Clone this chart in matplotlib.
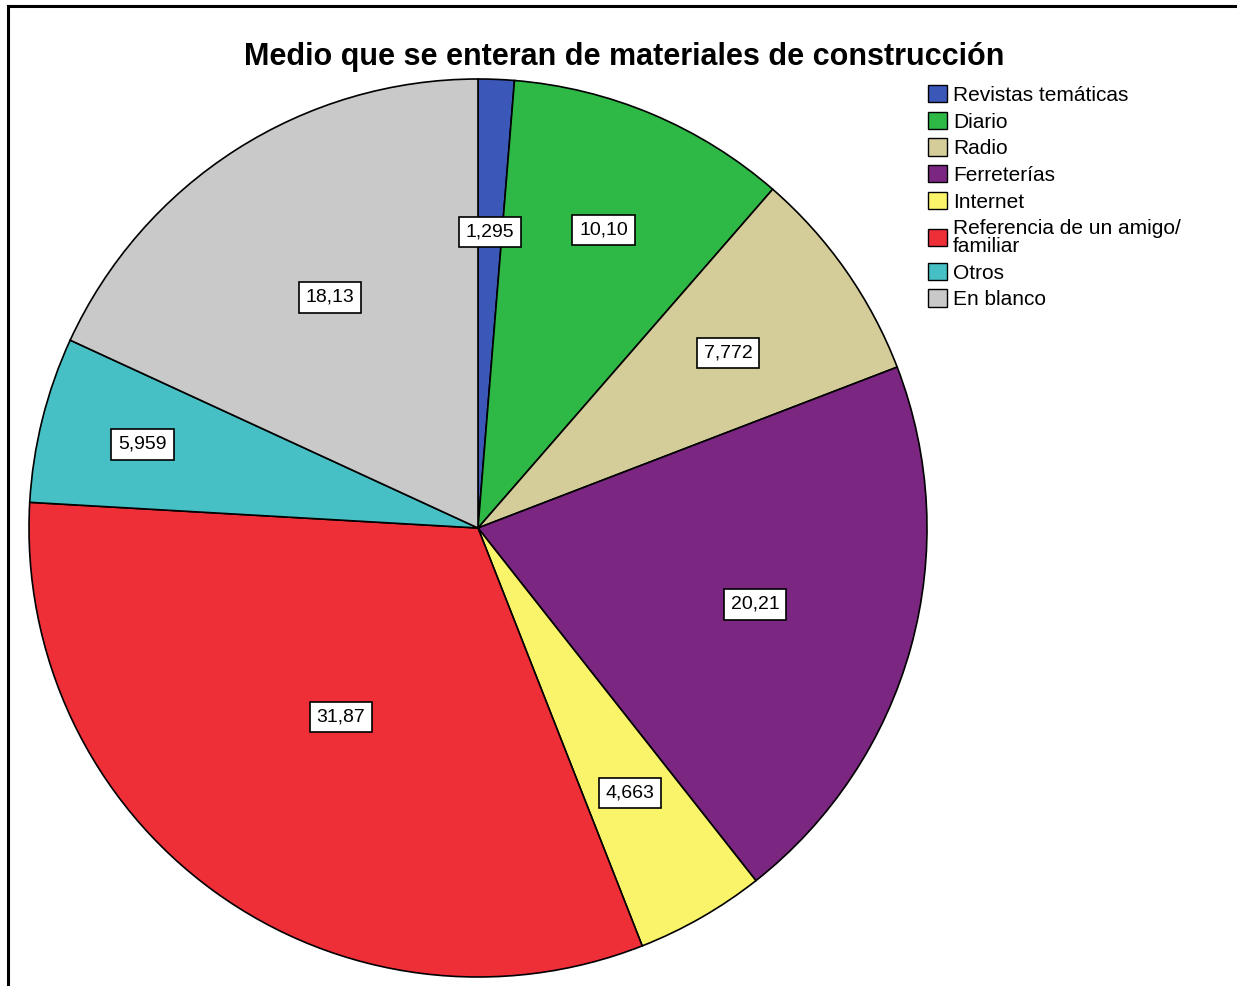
import numpy as np
import matplotlib
matplotlib.use("Agg")
import matplotlib.pyplot as plt
from matplotlib.lines import Line2D

plt.rcParams['font.family'] = ['Liberation Sans', 'DejaVu Sans']

# data
categorias = ["Revistas temáticas", "Diario", "Radio", "Ferreterías", "Internet",
              "Referencia de un amigo/\nfamiliar", "Otros", "En blanco"]
porcentajes = [1.295, 10.10, 7.772, 20.21, 4.663, 31.87, 5.959, 18.13]
colores = ["#3B57B8", "#2EB845", "#D4CD99", "#7B2681", "#FAF46A",
           "#EE2F38", "#46C0C5", "#C9C9C9"]
# radial position of the value boxes (fraction of radius)
pos_etiqueta = [0.66, 0.72, 0.68, 0.64, 0.68, 0.52, 0.77, 0.61]

fig = plt.figure(figsize=(12.37, 9.86), dpi=100)
ax = fig.add_axes([29/1237, 9/986, 898/1237, 898/986])

wedges, _ = ax.pie(porcentajes, colors=colores, startangle=90, counterclock=False,
                   wedgeprops=dict(edgecolor="black", linewidth=1.2), radius=1)
ax.set_xlim(-1, 1)
ax.set_ylim(-1, 1)
ax.set_aspect("equal")

for w, v, r in zip(wedges, porcentajes, pos_etiqueta):
    ang = np.deg2rad((w.theta1 + w.theta2) / 2)
    txt = f"{v:#.4g}".replace(".", ",")
    ax.text(r*np.cos(ang), r*np.sin(ang), txt, ha="center", va="center", fontsize=14,
            bbox=dict(boxstyle="square,pad=0.35", facecolor="white", edgecolor="black", linewidth=1.2))

fig.text(0.505, 1 - 57/986, "Medio que se enteran de materiales de construcción",
         ha="center", va="center", fontsize=22, fontweight="bold")

leg = fig.legend(wedges, categorias, loc="upper left", bbox_to_anchor=(928/1237, 1 - 85/986),
                 frameon=False, fontsize=15, handlelength=0.9, handleheight=0.9,
                 handletextpad=0.3, labelspacing=0.33, borderpad=0, borderaxespad=0)
for h in leg.legend_handles:
    h.set_linewidth(1.0)
for t in leg.get_texts():
    t.set_linespacing(0.95)

# border of the original output
fig.add_artist(Line2D([8/1237, 8/1237], [0, 1 - 6/986], color="black", linewidth=2.2))
fig.add_artist(Line2D([8/1237, 1], [1 - 6/986, 1 - 6/986], color="black", linewidth=2.2))

fig.savefig("out.png", dpi=100)
